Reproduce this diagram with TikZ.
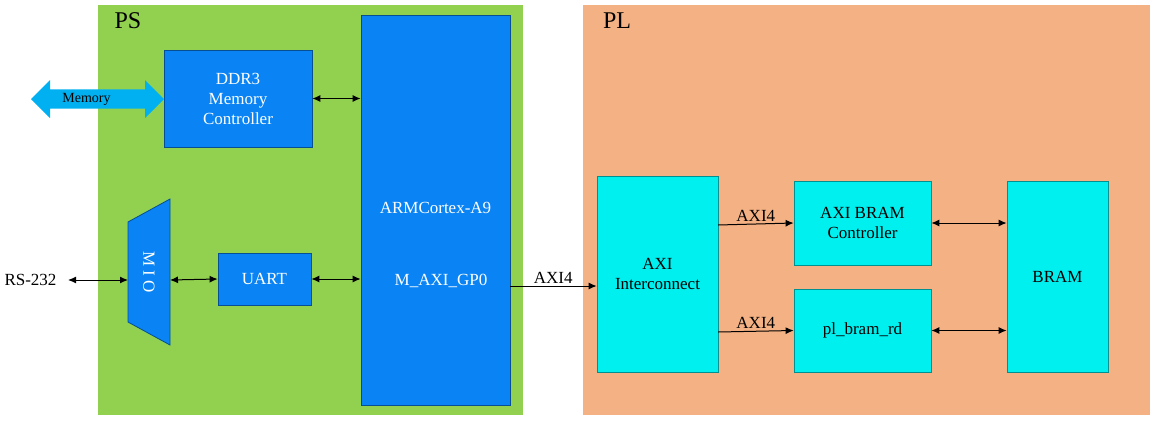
\documentclass[tikz,border=0pt]{standalone}
\usepackage{fontspec}
\setmainfont{Liberation Serif}
\usetikzlibrary{arrows.meta,shapes.arrows}
\definecolor{psg}{HTML}{92D050}
\definecolor{plo}{HTML}{F4B183}
\definecolor{blu}{HTML}{0A84F5}
\definecolor{cya}{HTML}{00F0F0}
\definecolor{lb}{HTML}{00B0F0}
\begin{document}
\begin{tikzpicture}[x=1pt,y=-1pt,
  font=\fontsize{17}{20}\selectfont,
  blk/.style={draw=blu!60!black,fill=blu,text=white,align=center,inner sep=0pt,line width=0.8pt},
  cblk/.style={draw=cya!60!black,fill=cya,text=black,align=center,inner sep=0pt,line width=0.8pt},
  arr/.style={-{Latex[length=8pt,width=7pt]},line width=1pt},
  darr/.style={{Latex[length=8pt,width=7pt]}-{Latex[length=8pt,width=7pt]},line width=1pt}]
\useasboundingbox (0,0) rectangle (1161,429);
\fill[psg] (98,5) rectangle (523,415);
\fill[plo] (583,5) rectangle (1150,415);
\node[font=\fontsize{24}{28}\selectfont] (ps) at (128,21) {PS};
\node[font=\fontsize{24}{28}\selectfont] (pl) at (617,21) {PL};
\node[blk,minimum width=148,minimum height=97] (ddr) at (238,98.5) {DDR3\\Memory\\Controller};
\node[blk,minimum width=149,minimum height=390] (arm) at (435.5,210) {};
\node[text=white] (armt) at (435.5,208) {ARM\\[-2pt]Cortex-A9};
\node[text=white,align=center] at (435.5,210) {};
\node[text=white] (gp0) at (441,281) {M\_AXI\_GP0};
\node[blk,minimum width=93,minimum height=52] (uart) at (264.5,279) {UART};
\draw[blu!60!black,fill=blu,line width=0.8pt] (128,222) -- (170,199) -- (170,345) -- (128,322) -- cycle;
\coordinate (miol) at (128,280);
\coordinate (mior) at (170,280);
\node[text=white,rotate=-90] (mio) at (149,272) {M I O};
\node[single arrow,double arrow,fill=lb,minimum height=133,minimum width=38,single arrow head extend=0pt,double arrow head extend=6pt,inner sep=0pt,font=\fontsize{14}{16}\selectfont] (mem) at (97.5,99) {\hspace{-22pt}Memory};
\node[anchor=east] (rs) at (60,280) {RS-232};
\draw[darr] (rs.east)++(8,0) -- (miol);
\draw[darr] (mior) -- (uart.west);
\draw[darr] (uart.east) -- (uart.east -| arm.west);
\draw[darr] (ddr.east) -- (ddr.east -| arm.west);
\node[cblk,minimum width=121,minimum height=196] (axi) at (657.5,274) {AXI\\Interconnect};
\node[cblk,minimum width=137,minimum height=84] (ctl) at (862.5,223) {AXI BRAM\\Controller};
\node[cblk,minimum width=137,minimum height=83] (rd) at (862.5,330.5) {pl\_bram\_rd};
\node[cblk,minimum width=101,minimum height=191] (bram) at (1057.5,276.5) {BRAM};
\coordinate (a0) at (510,286);
\draw[arr] (a0) -- (a0 -| axi.west) node[midway,above=-1pt] {AXI4};
\draw[arr] (718,225) -- (ctl.west) node[midway,above=-1pt] {AXI4};
\draw[arr] (718,332) -- (rd.west) node[midway,above=-1pt] {AXI4};
\draw[darr] (ctl.east) -- (ctl.east -| bram.west);
\draw[darr] (rd.east) -- (rd.east -| bram.west);
\end{tikzpicture}
\end{document}
